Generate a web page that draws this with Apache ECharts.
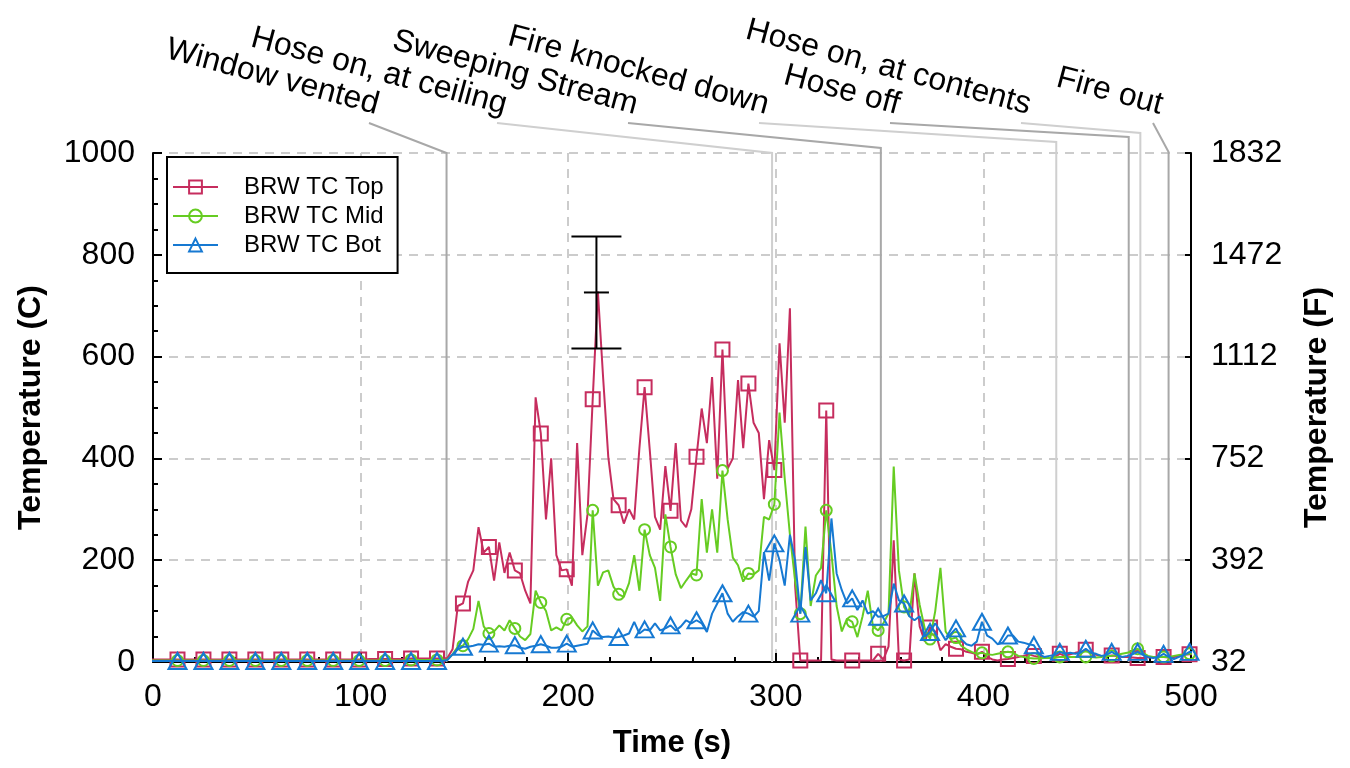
<!DOCTYPE html>
<html>
<head>
<meta charset="utf-8">
<script src="https://cdn.jsdelivr.net/npm/echarts@6/dist/echarts.min.js"></script>
<style>html,body{margin:0;padding:0;background:#fff}#c{width:1350px;height:768px}</style>
</head>
<body>
<div id="c"></div>
<script>
// ---------------- data ----------------
const seriesNames = ['BRW TC Top', 'BRW TC Mid', 'BRW TC Bot'];
const timeStart = -0.7;   // s, time of first sample
const timeStep = 2.5;     // s, sampling interval

const topC = [
  5,5,5,5,5,5,5,5,5,5,
  5,5,5,5,5,5,5,5,5,5,
  5,5,5,5,5,5,5,5,5,5,
  5,5,5,5,5,5,5,5,5,5,
  5,5,6,6,6,6,6,6,6,6,
  7,7,7,7,7,7,7,8,25,110,
  115,158,180,265,215,226,160,235,175,215,
  180,174,140,115,520,449,280,400,210,180,
  182,150,430,210,290,516,728,560,403,320,
  308,272,300,280,420,540,416,285,260,385,
  297,430,278,265,300,403,498,430,560,360,
  614,380,400,554,420,547,470,450,320,436,
  377,626,470,695,150,3,3,3,3,3,
  494,5,3,3,3,3,3,3,3,3,
  16,5,30,239,5,3,5,174,70,40,
  68,60,23,35,30,26,25,20,18,15,
  20,10,5,3,5,6,8,10,12,15,
  12,10,8,8,10,16,12,15,18,20,
  24,18,14,12,12,13,12,10,10,9,
  8,8,9,10,10,10,9,10,12,14,
  15,15
];
const midC = [
  3,3,3,3,3,3,3,3,3,3,
  3,3,3,3,3,3,3,3,3,3,
  3,3,3,3,3,3,3,3,3,3,
  3,3,3,3,3,3,3,3,3,3,
  3,3,3,3,3,3,3,3,3,3,
  4,4,4,4,4,4,4,5,15,30,
  32,45,65,120,70,56,60,72,62,82,
  66,50,43,55,140,117,100,62,68,62,
  84,88,72,60,70,298,150,176,180,148,
  133,128,155,210,140,260,210,185,120,290,
  226,172,145,160,174,171,320,215,300,215,
  376,280,205,190,158,174,172,180,285,280,
  310,490,360,250,160,95,266,110,170,185,
  298,213,110,60,85,79,49,90,140,70,
  62,76,95,384,180,108,90,174,112,65,
  45,100,185,60,45,48,32,25,20,16,
  18,15,14,16,18,20,18,12,10,8,
  7,7,8,8,9,10,10,10,10,10,
  10,10,9,10,12,12,14,16,18,22,
  26,18,12,10,10,10,10,12,14,15,
  16,16
];
const botC = [
  2,2,2,2,2,2,2,2,2,2,
  2,2,2,2,2,2,2,2,2,2,
  2,2,2,2,2,2,2,2,2,2,
  2,2,2,2,2,2,2,2,2,2,
  2,2,2,2,2,2,2,2,2,2,
  2,2,2,2,2,2,2,4,15,25,
  30,30,32,35,34,36,30,31,30,32,
  33,28,26,30,32,35,32,28,28,30,
  36,30,32,34,36,62,53,49,50,48,
  49,52,56,79,56,64,62,76,62,66,
  72,62,70,82,76,82,76,59,95,115,
  135,95,79,90,98,95,89,100,216,160,
  233,200,150,250,200,95,226,121,135,161,
  135,282,174,141,115,125,102,121,95,100,
  89,90,95,154,121,115,90,82,90,50,
  59,76,60,43,55,66,45,35,32,40,
  79,52,46,35,38,52,52,40,38,35,
  33,15,10,12,14,20,16,18,16,18,
  26,18,16,12,14,20,14,10,12,15,
  20,14,10,8,10,16,10,6,10,14,
  20,18
];

// events (time in s)
const eventNames = ['Window vented', 'Hose on, at ceiling', 'Sweeping Stream', 'Fire knocked down',
                    'Hose off', 'Hose on, at contents', 'Fire out'];
const eventTimes = [141.4, 298.2, 350.6, 435.1, 470.0, 475.6, 489.2];

// error bar on the peak (C)
const errTime = [213.6];
const errLow  = [616];
const errMid  = [726];
const errHigh = [836];

// tick labels
const xTickLabels = ['0', '100', '200', '300', '400', '500'];
const cTickLabels = ['0', '200', '400', '600', '800', '1000'];
const fTickLabels = ['32', '392', '752', '1112', '1472', '1832'];

// ---------------- layout / style ----------------
const FONT = '"Liberation Sans", Arial, Helvetica, sans-serif';
const colors = ['#c62d5e', '#66cc22', '#1679d2'];
const symbols = ['rect', 'circle', 'triangle'];
const symbolSizes = [14, 11, [18, 16]];
const markerEvery = 5;
// label anchors (right end of text) and leader elbow heights, in px
const eventLayout = [
  {endX: 374, yTop: 153, color: '#a8a8a8'},
  {endX: 502, yTop: 153, color: '#cfcfcf'},
  {endX: 633, yTop: 148, color: '#a8a8a8'},
  {endX: 764, yTop: 142, color: '#cfcfcf'},
  {endX: 895, yTop: 137, color: '#a8a8a8'},
  {endX: 1026, yTop: 133, color: '#cfcfcf'},
  {endX: 1158, yTop: 152, color: '#a8a8a8'}
];
const labelBaseY = 121, leaderStartY = 123, labelAngle = -15;

const times = topC.map((_, i) => +(timeStart + i * timeStep).toFixed(2));
function buildData(vals) {
  return vals.map((v, i) => (i % markerEvery === 0)
    ? [times[i], v]
    : {value: [times[i], v], symbol: 'none'});
}
const seriesVals = [topC, midC, botC];

const chart = echarts.init(document.getElementById('c'), null, {renderer: 'canvas'});

const lineSeries = seriesNames.map((name, k) => ({
  name: name,
  type: 'line',
  data: buildData(seriesVals[k]),
  symbol: symbols[k],
  symbolSize: symbolSizes[k],
  showSymbol: true,
  showAllSymbol: true,
  clip: true,
  lineStyle: {color: colors[k], width: 2},
  itemStyle: {color: 'rgba(255,255,255,0)', borderColor: colors[k], borderWidth: 2},
  emphasis: {disabled: true},
  z: 3 + k
}));

const errSeries = {
  type: 'custom',
  silent: true,
  z: 10,
  data: errTime.map((t, i) => [t, errLow[i], errMid[i], errHigh[i]]),
  renderItem: function (params, api) {
    const lo = api.coord([api.value(0), api.value(1)]);
    const mid = api.coord([api.value(0), api.value(2)]);
    const hi = api.coord([api.value(0), api.value(3)]);
    const st = {stroke: '#000', lineWidth: 2};
    const capW = 25, midW = 12.5;
    return {
      type: 'group',
      children: [
        {type: 'line', shape: {x1: lo[0], y1: lo[1], x2: hi[0], y2: hi[1]}, style: st},
        {type: 'line', shape: {x1: hi[0] - capW, y1: hi[1], x2: hi[0] + capW, y2: hi[1]}, style: st},
        {type: 'line', shape: {x1: lo[0] - capW, y1: lo[1], x2: lo[0] + capW, y2: lo[1]}, style: st},
        {type: 'line', shape: {x1: mid[0] - midW, y1: mid[1], x2: mid[0] + midW, y2: mid[1]}, style: st}
      ]
    };
  }
};

const axisLineStyle = {color: '#000', width: 2};
const gridLine = {show: true, lineStyle: {color: '#cccccc', width: 2, type: [9, 7]}};

chart.setOption({
  animation: false,
  backgroundColor: '#fff',
  textStyle: {fontFamily: FONT, color: '#000'},
  grid: {left: 153, top: 153, right: 159, bottom: 106, containLabel: false},
  legend: {
    data: seriesNames,
    orient: 'vertical',
    left: 167,
    top: 157,
    itemWidth: 45,
    itemHeight: 16,
    itemGap: 5,
    padding: [18, 14, 16, 5],
    borderColor: '#000',
    borderWidth: 2,
    backgroundColor: '#fff',
    selectedMode: false,
    textStyle: {fontSize: 24, color: '#000', fontFamily: FONT, padding: [0, 0, 0, 21]}
  },
  xAxis: {
    type: 'value', min: 0, max: 500, interval: 100,
    name: 'Time (s)', nameLocation: 'middle', nameGap: 66,
    nameTextStyle: {fontSize: 31, fontWeight: 'bold', color: '#000', fontFamily: FONT},
    axisLine: {show: true, onZero: false, lineStyle: axisLineStyle},
    axisTick: {show: true, inside: true, length: 9, lineStyle: axisLineStyle},
    minorTick: {show: true, splitNumber: 5, length: 5, lineStyle: axisLineStyle},
    axisLabel: {fontSize: 32, color: '#000', margin: 19, fontFamily: FONT,
                formatter: (v, idx) => xTickLabels[idx]},
    splitLine: gridLine
  },
  yAxis: [
    {
      type: 'value', min: 0, max: 1000, interval: 200, position: 'left',
      name: 'Temperature (C)', nameLocation: 'middle', nameGap: 106, nameRotate: 90,
      nameTextStyle: {fontSize: 32, fontWeight: 'bold', color: '#000', fontFamily: FONT},
      axisLine: {show: true, lineStyle: axisLineStyle},
      axisTick: {show: true, inside: true, length: 9, lineStyle: axisLineStyle},
      minorTick: {show: true, splitNumber: 4, length: 5, lineStyle: axisLineStyle},
      axisLabel: {fontSize: 32, color: '#000', margin: 18, fontFamily: FONT,
                  formatter: (v, idx) => cTickLabels[idx]},
      splitLine: gridLine
    },
    {
      type: 'value', min: 0, max: 1000, interval: 200, position: 'right',
      name: 'Temperature (F)', nameLocation: 'middle', nameGap: 110, nameRotate: 90,
      nameTextStyle: {fontSize: 32, fontWeight: 'bold', color: '#000', fontFamily: FONT},
      axisLine: {show: true, lineStyle: axisLineStyle},
      axisTick: {show: true, inside: true, length: 6, lineStyle: axisLineStyle},
      minorTick: {show: false},
      axisLabel: {fontSize: 32, color: '#000', margin: 20, fontFamily: FONT,
                  formatter: (v, idx) => fTickLabels[idx]},
      splitLine: {show: false}
    }
  ],
  series: lineSeries.concat([errSeries])
});

// event annotations: vertical lines at event times + slanted leaders + rotated labels
const graphics = [];
eventTimes.forEach((t, i) => {
  const bottom = chart.convertToPixel({xAxisIndex: 0, yAxisIndex: 0}, [t, 0]);
  const L = eventLayout[i];
  graphics.push({
    type: 'polyline', z: 1, silent: true,
    shape: {points: [[L.endX - 5, leaderStartY], [bottom[0], L.yTop], [bottom[0], bottom[1]]]},
    style: {stroke: L.color, lineWidth: 2, fill: null}
  });
  graphics.push({
    type: 'text', z: 5, silent: true,
    x: L.endX, y: labelBaseY, rotation: labelAngle * Math.PI / 180,
    style: {text: eventNames[i], font: '32px ' + FONT, fill: '#000', align: 'right', verticalAlign: 'bottom'}
  });
});
chart.setOption({graphic: graphics});
</script>
</body>
</html>
